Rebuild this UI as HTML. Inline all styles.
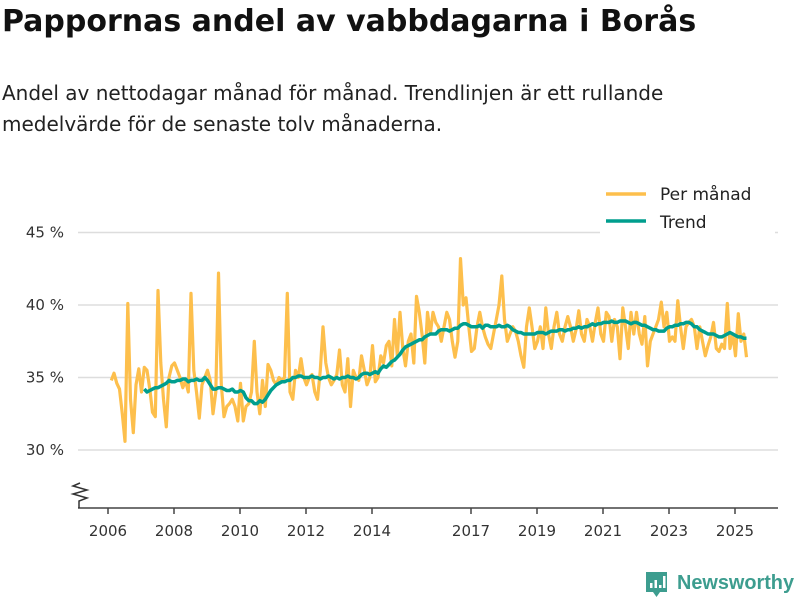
<!DOCTYPE html>
<html><head><meta charset="utf-8"><style>
body{margin:0;background:#fff;width:800px;height:600px;overflow:hidden;font-family:"Liberation Sans","DejaVu Sans",sans-serif;}
h1{position:absolute;left:2px;top:4px;margin:0;font-size:30px;font-weight:bold;color:#111;font-family:"DejaVu Sans","Liberation Sans",sans-serif;letter-spacing:0px}
.sub{position:absolute;left:2px;top:78px;font-size:20px;line-height:31px;color:#222;font-family:"DejaVu Sans","Liberation Sans",sans-serif;width:675px}
svg{position:absolute;left:0;top:0}
</style></head><body>
<h1>Pappornas andel av vabbdagarna i Borås</h1>
<div class="sub">Andel av nettodagar månad för månad. Trendlinjen är ett rullande medelvärde för de senaste tolv månaderna.</div>
<svg id="chart" width="800" height="600" font-family="DejaVu Sans, Liberation Sans, sans-serif"></svg>
<script>
const yTicks=[30,35,40,45];
const yTickLabels=["30 %","35 %","40 %","45 %"];
const xTicks=[2006,2008,2010,2012,2014,2017,2019,2021,2023,2025];
const monthlyStart=2006;
const trendStart=2007;
const monthly=[
34.8,35.3,34.6,34.2,32.5,30.6,40.1,33.5,31.2,34.5,35.6,34.0,
35.7,35.5,34.2,32.6,32.3,41.0,36.0,33.5,31.6,35.0,35.8,36.0,
35.5,35.0,34.3,34.8,34.0,40.8,35.5,34.0,32.2,34.5,35.0,35.5,
34.8,32.5,34.0,42.2,34.5,32.3,33.0,33.2,33.5,33.0,32.0,34.6,
32.0,33.0,33.2,34.0,37.5,34.0,32.5,34.8,33.0,35.9,35.5,34.8,
34.5,35.0,34.8,35.0,40.8,34.0,33.5,35.5,35.0,36.3,35.0,34.5,
35.0,35.2,34.0,33.5,35.5,38.5,36.0,35.0,34.5,34.8,35.2,36.9,
34.5,34.0,36.3,33.0,35.5,35.0,34.8,36.5,35.5,34.5,35.0,37.2,
34.7,35.0,36.5,36.0,37.2,37.5,35.8,39.0,36.5,39.5,37.0,35.8,
37.5,38.0,36.0,40.6,39.5,38.0,36.0,39.5,38.0,39.5,38.8,38.5,
37.5,38.5,39.5,39.0,37.5,36.4,37.5,43.2,40.0,40.5,38.5,36.8,
37.0,38.5,39.5,38.5,37.8,37.3,37.0,38.0,39.0,40.0,42.0,39.0,
37.5,38.0,38.5,38.2,37.5,36.5,35.7,38.5,39.8,38.5,37.0,37.5,
38.5,37.0,39.8,38.0,37.0,38.5,39.5,38.0,37.5,38.5,39.2,38.5,
37.5,38.3,39.6,38.0,37.5,39.0,38.5,37.5,38.8,39.8,38.0,37.5,
39.5,39.2,37.5,39.0,38.5,36.3,39.8,38.5,37.0,39.5,38.0,39.5,
38.0,37.3,39.2,35.8,37.5,38.0,38.5,39.0,40.2,38.5,39.5,37.5,
37.8,37.5,40.3,38.5,37.0,38.5,38.8,39.0,38.5,37.0,38.5,37.5,
36.5,37.2,37.8,38.8,37.0,36.8,37.3,37.0,40.1,37.0,38.0,36.5,
39.4,37.5,38.0,36.4];
const trend=[
34.2,34.0,34.1,34.2,34.3,34.3,34.4,34.5,34.6,34.8,34.7,34.7,
34.8,34.8,34.9,34.9,34.7,34.8,34.8,34.9,34.8,34.8,35.0,34.8,
34.5,34.2,34.2,34.3,34.3,34.2,34.1,34.1,34.2,34.0,34.0,34.1,
34.0,33.6,33.4,33.4,33.2,33.2,33.4,33.3,33.5,33.8,34.1,34.3,
34.5,34.6,34.7,34.7,34.8,34.8,35.0,35.0,35.1,35.1,35.0,35.0,
35.0,35.1,35.0,35.0,34.9,35.0,35.0,35.1,35.0,34.9,35.0,34.9,
35.0,35.0,35.1,35.0,35.0,34.9,35.0,35.2,35.3,35.3,35.2,35.3,
35.4,35.3,35.6,35.8,35.7,35.9,36.1,36.2,36.4,36.6,36.9,37.1,
37.2,37.3,37.4,37.5,37.6,37.6,37.8,37.9,38.0,38.0,38.0,38.2,
38.3,38.3,38.3,38.2,38.3,38.4,38.4,38.6,38.7,38.7,38.6,38.5,
38.5,38.5,38.6,38.4,38.6,38.6,38.5,38.5,38.5,38.6,38.5,38.5,
38.6,38.5,38.3,38.2,38.1,38.1,38.0,38.0,38.0,38.0,38.0,38.1,
38.1,38.1,38.0,38.1,38.2,38.2,38.2,38.3,38.3,38.2,38.3,38.3,
38.4,38.4,38.5,38.4,38.5,38.5,38.6,38.7,38.6,38.7,38.7,38.8,
38.8,38.8,38.9,38.8,38.8,38.9,38.9,38.9,38.8,38.7,38.8,38.8,
38.7,38.6,38.6,38.5,38.4,38.3,38.3,38.2,38.2,38.2,38.4,38.5,
38.5,38.6,38.6,38.7,38.7,38.8,38.8,38.7,38.5,38.5,38.3,38.2,
38.1,38.0,38.0,38.0,37.9,37.8,37.8,37.9,38.0,38.1,38.0,37.9,
37.8,37.8,37.7,37.7];

const NS='http://www.w3.org/2000/svg';
const svg=document.getElementById('chart');
function X(year){return 108+(year-2006)*33.0;}
function Y(v){return 305-(v-40)*14.5;}
function mk(tag,attrs,parent){const e=document.createElementNS(NS,tag);for(const k in attrs)e.setAttribute(k,attrs[k]);(parent||svg).appendChild(e);return e;}

yTicks.forEach((t,i)=>{
  const g=mk('line',{x1:78,x2:778,y1:Y(t),y2:Y(t),stroke:'#ddd','stroke-width':1.5});
  
  
  const tx=mk('text',{x:64,y:Y(t)+5,'text-anchor':'end','font-size':15,fill:'#333'});
  tx.textContent=yTickLabels[i];
  
  
});
const ax=mk('line',{x1:78,x2:778,y1:508,y2:508,stroke:'#444','stroke-width':1.5});


const zz=mk('path',{d:'M79,508 L79,501 L87,498 L73,494 L87,490 L73,486 L80,483',fill:'none',stroke:'#333','stroke-width':1.5});


xTicks.forEach(t=>{
  const l=mk('line',{x1:X(t),x2:X(t),y1:508,y2:514,stroke:'#444','stroke-width':1.5});
  
  
  const tx=mk('text',{x:X(t),y:536,'text-anchor':'middle','font-size':15,fill:'#333'});
  tx.textContent=t;
  
  
});
function pathFrom(arr,start){return arr.map((v,i)=>(i?'L':'M')+X(start+i/12+0.1).toFixed(1)+','+Y(v).toFixed(1)).join(' ');}
const pm=mk('path',{d:pathFrom(monthly,monthlyStart),fill:'none',stroke:'#fdbf4c','stroke-width':3.2,'stroke-linejoin':'round'});


const tr=mk('path',{d:pathFrom(trend,trendStart),fill:'none',stroke:'#009e8e','stroke-width':3.5,'stroke-linejoin':'round'});



const lg=mk('g',{});


mk('rect',{x:600,y:180,width:175,height:54,fill:'#fff'},lg);
mk('line',{x1:606,x2:646,y1:194,y2:194,stroke:'#fdbf4c','stroke-width':3.5},lg);
mk('line',{x1:606,x2:646,y1:221,y2:221,stroke:'#009e8e','stroke-width':3.5},lg);
const l1=mk('text',{x:660,y:200,'font-size':17,fill:'#222'},lg);l1.textContent='Per månad';


const l2=mk('text',{x:660,y:228,'font-size':17,fill:'#222'},lg);l2.textContent='Trend';



const logo=mk('g',{});


mk('path',{d:'M646,572 h21 v20 h-7 l-3.5,5 l-3.5,-5 h-7 z',fill:'#3d9d8f'},logo);
mk('rect',{x:650,y:583,width:2.5,height:5,fill:'#fff'},logo);
mk('rect',{x:654.5,y:580,width:2.5,height:8,fill:'#fff'},logo);
mk('rect',{x:659,y:585,width:2.5,height:3,fill:'#fff'},logo);
mk('rect',{x:663,y:576,width:2.5,height:12,fill:'#fff'},logo);
const lt=mk('text',{x:677,y:589,'font-size':20,'font-weight':'bold',fill:'#3d9d8f','font-family':'Liberation Sans, sans-serif',textLength:117,lengthAdjust:'spacingAndGlyphs'},logo);lt.textContent='Newsworthy';
</script>
</body></html>
